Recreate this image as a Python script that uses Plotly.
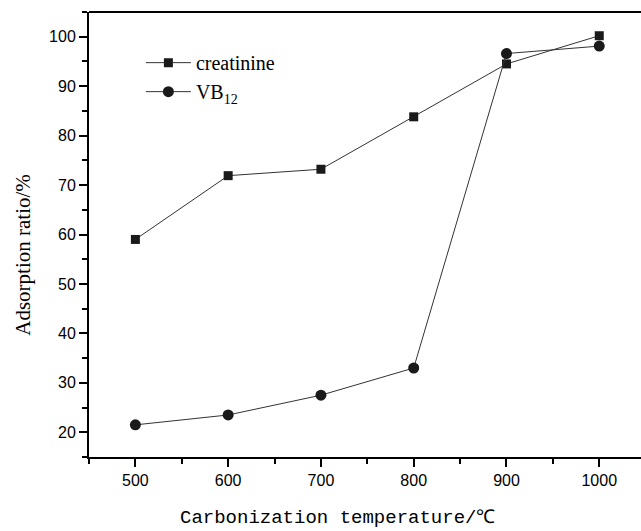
import plotly.graph_objects as go

temps = [500, 600, 700, 800, 900, 1000]
creatinine = [59.0, 71.9, 73.2, 83.8, 94.5, 100.2]
vb12 = [21.5, 23.5, 27.5, 33.0, 96.6, 98.1]
x_ticks = [500, 600, 700, 800, 900, 1000]
y_ticks = [20, 30, 40, 50, 60, 70, 80, 90, 100]

fig = go.Figure()
fig.add_trace(go.Scatter(
    x=temps, y=creatinine, mode="lines+markers", name="creatinine",
    line=dict(color="#333333", width=1),
    marker=dict(symbol="square", size=9, color="#1a1a1a"),
))
fig.add_trace(go.Scatter(
    x=temps, y=vb12, mode="lines+markers", name="VB<sub>12</sub>",
    line=dict(color="#333333", width=1),
    marker=dict(symbol="circle", size=11, color="#1a1a1a"),
))

axis_common = dict(
    showline=True, linecolor="black", linewidth=2,
    showgrid=False, zeroline=False,
    ticks="outside", tickcolor="black", tickwidth=1.5, ticklen=8,
    tickfont=dict(family="Liberation Sans, Arial", size=16, color="black"),
)

fig.update_xaxes(
    range=[450, 1045], tickvals=x_ticks, mirror=False,
    minor=dict(ticks="outside", ticklen=5, tickwidth=1.5, tickcolor="black", dtick=50, tick0=450),
    **axis_common,
)
fig.update_yaxes(
    range=[15, 105], tickvals=y_ticks,
    minor=dict(ticks="outside", ticklen=5, tickwidth=1.5, tickcolor="black", dtick=5, tick0=15),
    **axis_common,
)

# top frame line
fig.add_shape(type="line", xref="paper", yref="paper", x0=0, x1=1, y0=1, y1=1,
              line=dict(color="black", width=2))

fig.add_annotation(
    text="Adsorption ratio/%", xref="paper", yref="paper",
    x=-0.121, y=0.455, xanchor="center", yanchor="middle", showarrow=False,
    textangle=-90,
    font=dict(family="Liberation Serif, Times New Roman", size=21, color="black"),
)

fig.add_annotation(
    text="Carbonization temperature/℃", xref="paper", yref="paper",
    x=0.451, y=-0.137, xanchor="center", yanchor="middle", showarrow=False,
    font=dict(family="Liberation Mono, Courier New, monospace", size=19, color="black"),
)

fig.update_layout(
    width=641, height=531,
    margin=dict(l=89, r=0, t=12, b=74),
    paper_bgcolor="white", plot_bgcolor="white",
    showlegend=True,
    legend=dict(x=0.094, y=0.93, xanchor="left", yanchor="top",
                bgcolor="rgba(0,0,0,0)", itemwidth=45,
                font=dict(family="Liberation Serif, Times New Roman", size=20, color="black")),
)

fig.write_html("out.html")
